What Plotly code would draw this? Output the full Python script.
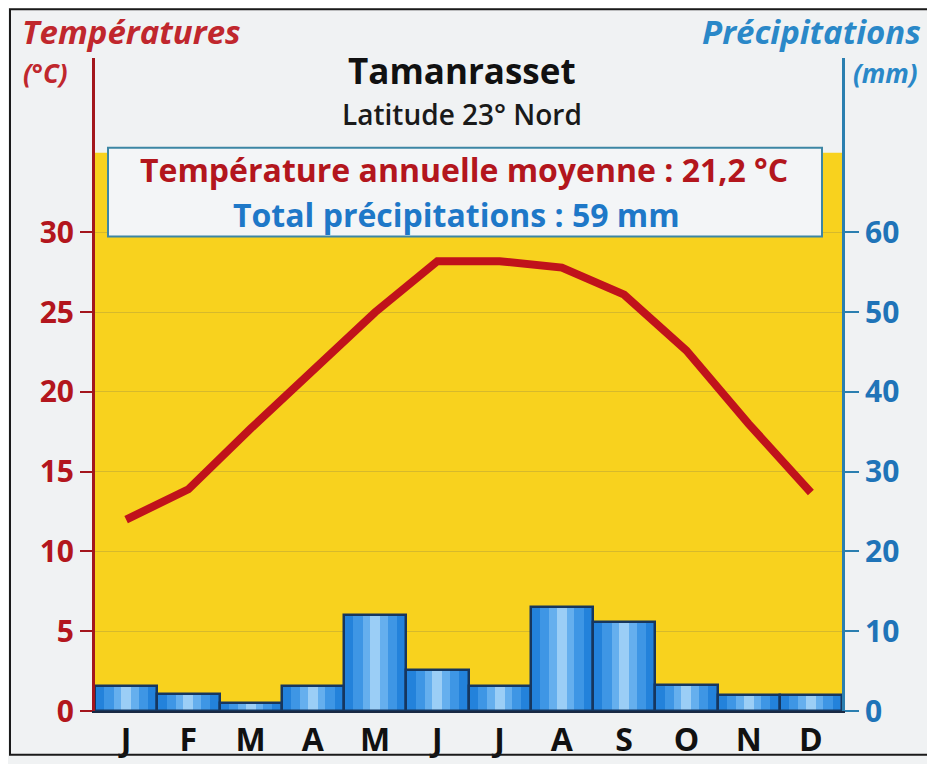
import plotly.graph_objects as go

# ---- data ----
months = ["J", "F", "M", "A", "M", "J", "J", "A", "S", "O", "N", "D"]
temperature_c = [12.0, 13.9, 17.7, 21.4, 25.0, 28.2, 28.2, 27.8, 26.1, 22.6, 18.0, 13.7]
precip_mm = [3.1, 2.1, 1.0, 3.1, 12.0, 5.1, 3.1, 13.1, 11.2, 3.2, 2.0, 2.0]
temp_ticks = [0, 5, 10, 15, 20, 25, 30]
precip_ticks = [0, 10, 20, 30, 40, 50, 60]
title = "Tamanrasset"
subtitle = "Latitude 23° Nord"
info_temp = "Température annuelle moyenne : 21,2 °C"
info_precip = "Total précipitations : 59 mm"

W, H = 935, 764
OFF = 8                      # default page body margin
PL, PR, PT, PB = 95, 842, 58, 713   # plot area in page pixels
PW, PH = PR - PL, PB - PT
TEMP_MAX = PH / 16.0
FONT = "Open Sans"

def px(x):
    return (x - PL) / PW

def py(y):
    return (PB - y) / PH

xs = list(range(len(months)))

RED = "#b3161d"
BLUE = "#1f74b8"

fig = go.Figure()

# precipitation bars (base, shading, highlight, outline)
fig.add_trace(go.Bar(x=xs, y=precip_mm, yaxis="y2", width=1.0,
                     marker=dict(color="#2382db", line=dict(width=0)),
                     hoverinfo="skip", showlegend=False))
fig.add_trace(go.Bar(x=xs, y=precip_mm, yaxis="y2", width=0.7,
                     marker=dict(color="rgba(90,170,240,0.5)", line=dict(width=0)),
                     hoverinfo="skip", showlegend=False))
fig.add_trace(go.Bar(x=xs, y=precip_mm, yaxis="y2", width=0.4,
                     marker=dict(color="rgba(140,200,248,0.5)", line=dict(width=0)),
                     hoverinfo="skip", showlegend=False))
fig.add_trace(go.Bar(x=xs, y=precip_mm, yaxis="y2", width=0.16,
                     marker=dict(color="rgba(200,232,253,0.55)", line=dict(width=0)),
                     hoverinfo="skip", showlegend=False))
fig.add_trace(go.Bar(x=xs, y=precip_mm, yaxis="y2", width=1.0,
                     marker=dict(color="rgba(0,0,0,0)", line=dict(width=2.5, color="#16365e")),
                     hoverinfo="skip", showlegend=False))

# temperature line
fig.add_trace(go.Scatter(x=xs, y=temperature_c, mode="lines",
                         line=dict(color="#c0121b", width=8),
                         hoverinfo="skip", showlegend=False))

shapes = [
    dict(type="rect", xref="paper", yref="y", x0=0, x1=1, y0=0, y1=35,
         fillcolor="#f8d21e", line=dict(width=0), layer="below"),
    dict(type="rect", xref="paper", yref="paper", x0=px(108), x1=px(822),
         y0=py(237), y1=py(148), fillcolor="#f3f5f7",
         line=dict(color="#3c86a4", width=2), layer="above"),
    dict(type="rect", xref="paper", yref="paper", x0=px(10), x1=px(929),
         y0=py(757), y1=py(9), fillcolor="rgba(0,0,0,0)",
         line=dict(color="#1a1a1a", width=2), layer="above"),
]

def ann(text, x, y, size, color, xanchor="center", weight="bold", italic=False):
    return dict(text=text, x=px(x), y=py(y), xref="paper", yref="paper",
                xanchor=xanchor, yanchor="middle", showarrow=False,
                font=dict(family=FONT, size=size, color=color, weight=weight,
                          style="italic" if italic else "normal"))

annotations = [
    ann("Températures", 20, 31, 33, "#c0272d", "left", "bold", True),
    ann("(°C)", 21, 73, 26, "#c0272d", "left", "bold", True),
    ann("Précipitations", 923, 31, 33, "#2a88c8", "right", "bold", True),
    ann("(mm)", 920, 73, 26, "#2a88c8", "right", "bold", True),
    ann(title, 462, 71, 35, "#111111"),
    ann(subtitle, 462, 114, 28, "#1a1a1a", weight=600),
    ann(info_temp, 464, 170, 32, RED),
    ann(info_precip, 456, 215, 32, "#1e78c8"),
]

fig.update_layout(
    width=W, height=H, autosize=False,
    margin=dict(l=PL - OFF, r=W - (PR - OFF), t=PT - OFF, b=H - (PB - OFF), pad=0),
    paper_bgcolor="#f0f2f3", plot_bgcolor="rgba(0,0,0,0)",
    barmode="overlay", bargap=0, showlegend=False,
    shapes=shapes, annotations=annotations,
    xaxis=dict(range=[-0.5, len(months) - 0.5], tickvals=xs, ticktext=months,
               showgrid=False, zeroline=False, showline=True,
               linecolor="#1a2a44", linewidth=2, ticks="",
               tickfont=dict(family=FONT, size=32, color="#111111", weight="bold")),
    yaxis=dict(range=[0, TEMP_MAX], tickvals=temp_ticks,
               showgrid=True, gridcolor="#d6b92c", gridwidth=1,
               zeroline=False, showline=True, linecolor="#a3161c", linewidth=3,
               ticks="outside", ticklen=12, tickwidth=2, tickcolor="#a3161c",
               tickfont=dict(family=FONT, size=30, color=RED, weight="bold")),
    yaxis2=dict(range=[0, TEMP_MAX * 2], tickvals=precip_ticks, overlaying="y",
                side="right", showgrid=False, zeroline=False, showline=True,
                linecolor="#2b7fb0", linewidth=3,
                ticks="outside", ticklen=14, tickwidth=2, tickcolor="#2b7fb0",
                tickfont=dict(family=FONT, size=30, color=BLUE, weight="bold")),
)

fig.write_html("out.html")
